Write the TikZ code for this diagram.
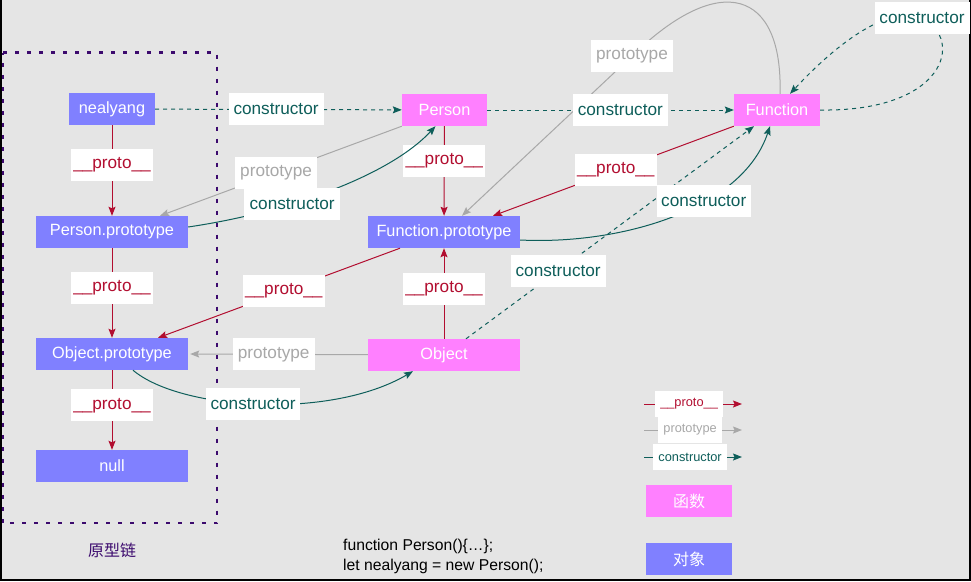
\documentclass[tikz,border=0pt]{standalone}
\usepackage{fontspec}
\setmainfont{Liberation Sans}
\newfontfamily\cjk{Noto Sans CJK SC}
\usetikzlibrary{arrows.meta}
\definecolor{bgray}{RGB}{229,229,229}
\definecolor{objblue}{RGB}{128,128,255}
\definecolor{fnpink}{RGB}{255,128,255}
\definecolor{protored}{RGB}{178,14,48}
\definecolor{ctorteal}{RGB}{14,94,90}
\definecolor{ptypegray}{RGB}{168,168,168}
\definecolor{chainpurple}{RGB}{60,10,110}
\tikzset{
  obj/.style={fill=objblue, text=white, minimum height=32pt, inner sep=0pt, font=\fontsize{16.3}{18}\selectfont},
  fn/.style={fill=fnpink, text=white, minimum height=32pt, inner sep=0pt, font=\fontsize{16.3}{18}\selectfont},
  lbl/.style={fill=white, minimum height=32pt, minimum width=82pt, inner sep=0pt, font=\fontsize{17.2}{18}\selectfont},
  smalllbl/.style={fill=white, minimum height=26pt, inner xsep=5pt, inner ysep=0pt, font=\fontsize{12.8}{14}\selectfont},
  proto/.style={draw=protored, text=protored, line width=1pt, -{Stealth[length=9pt,width=7pt,inset=1.5pt]}},
  ptype/.style={draw=ptypegray, text=ptypegray, line width=1pt, -{Stealth[length=9pt,width=7pt,inset=1.5pt]}},
  ctor/.style={draw=ctorteal, text=ctorteal, line width=1pt, -{Stealth[length=9pt,width=7pt,inset=1.5pt]}},
  ctordash/.style={ctor, dash pattern=on 4pt off 4pt}
}
\begin{document}
\begin{tikzpicture}[x=1pt, y=-1pt]
\fill[bgray] (0,0) rectangle (971,581);
\useasboundingbox (0,0) rectangle (971,581);
\draw[black, line width=2pt] (1,0) -- (1,580) -- (970,580) -- (970,0);

% prototype chain box
\draw[chainpurple, line width=2.4pt, dash pattern=on 4pt off 8pt] (3,52.5) -- (217,52.5) -- (217,523) -- (3,523);
\draw[chainpurple, line width=2.4pt, dash pattern=on 4pt off 8pt] (3,523) -- (3,52.5);
\node[text=chainpurple, font=\cjk\fontsize{16}{18}\selectfont] (chain) at (112,550) {原型链};

% objects and functions
\node[obj, minimum width=86pt] (nealyang) at (112,109) {nealyang};
\node[fn, minimum width=85pt] (Person) at (444.5,110) {Person};
\node[fn, minimum width=86pt] (Function) at (777,110) {Function};
\node[obj, minimum width=152pt] (PersonProto) at (112,232) {Person.prototype};
\node[obj, minimum width=152pt] (FunctionProto) at (444,232) {Function.prototype};
\node[obj, minimum width=152pt] (ObjectProto) at (112,354) {Object.prototype};
\node[fn, minimum width=152pt] (Object) at (444,355) {Object};
\node[obj, minimum width=152pt] (null) at (112,466) {null};

% __proto__
\draw[proto] (nealyang) -- node[lbl, pos=.44]{\_\_proto\_\_} (PersonProto);
\draw[proto] (PersonProto) -- node[lbl, pos=.44]{\_\_proto\_\_} (ObjectProto);
\draw[proto] (ObjectProto) -- node[lbl, pos=.44]{\_\_proto\_\_} (null);
\draw[proto] (Person) -- node[lbl, pos=.39]{\_\_proto\_\_} (FunctionProto);
\draw[proto] (Object) -- node[lbl, pos=.55]{\_\_proto\_\_} (FunctionProto);
\draw[proto] (Function.south west) -- node[lbl, pos=.49]{\_\_proto\_\_} ([xshift=49pt]FunctionProto.north);
\draw[proto] ([xshift=-44pt]FunctionProto.south) -- node[lbl, pos=.48]{\_\_proto\_\_} ([xshift=46pt]ObjectProto.north);

% prototype
\draw[ptype] (Person.south west) -- node[lbl, pos=.52]{prototype} ([xshift=48pt]PersonProto.north);
\draw[ptype] (Object) -- node[lbl, pos=.53]{prototype} ([xshift=2pt]ObjectProto.east);
\draw[ptype] ([xshift=3pt]Function.north) .. controls (783,-10) and (720,-30) .. (632,56)
  node[lbl]{prototype} -- ([xshift=18pt]FunctionProto.north);

% constructor
\draw[ctordash] (nealyang) -- node[lbl, minimum width=95pt, pos=.49]{constructor} (Person);
\draw[ctordash] (Person) -- node[lbl, minimum width=95pt, pos=.54]{constructor} (Function);
\draw[ctordash] ([xshift=22pt]Object.north) -- node[lbl, minimum width=95pt, pos=.32]{constructor} ([xshift=-23pt]Function.south);
\draw[ctordash] (Function.east) .. controls (945,112) and (965,40) .. (922,18)
  node[lbl, minimum width=95pt]{constructor} .. controls (890,5) and (840,40) .. ([xshift=13pt]Function.north);
\draw[ctor] ([yshift=5pt]PersonProto.east) .. controls (290,212) and (390,175) .. node[lbl, minimum width=96pt, pos=.35]{constructor} ([xshift=-9pt]Person.south);
\draw[ctor] ([yshift=-8pt]FunctionProto.east) .. controls (620,245) and (742,210) .. node[lbl, minimum width=94pt, pos=.62]{constructor} ([xshift=-7pt]Function.south);
\draw[ctor] ([xshift=21pt]ObjectProto.south) .. controls (180,410) and (330,420) .. node[lbl, minimum width=94pt, pos=.48]{constructor} ([xshift=-31pt]Object.south);

% legend
\coordinate (l1a) at (644,404); \coordinate (l1b) at (742,404);
\coordinate (l2a) at (644,430); \coordinate (l2b) at (742,430);
\coordinate (l3a) at (644,457); \coordinate (l3b) at (742,457);
\draw[proto] (l1a) -- node[smalllbl, pos=.46]{\_\_proto\_\_} (l1b);
\draw[ptype] (l2a) -- node[smalllbl, pos=.47]{prototype} (l2b);
\draw[ctor] (l3a) -- node[smalllbl, pos=.47]{constructor} (l3b);
\node[fn, minimum width=86pt, font=\cjk\fontsize{16}{18}\selectfont] (fnkey) at (689,501) {函数};
\node[obj, minimum width=86pt, font=\cjk\fontsize{16}{18}\selectfont] (objkey) at (689,559) {对象};

% code
\node[anchor=north west, align=left, inner sep=0pt, font=\fontsize{15.7}{20}\selectfont] (code) at (343,539) {function Person()\{\dots\};\\let nealyang = new Person();};
\end{tikzpicture}
\end{document}
